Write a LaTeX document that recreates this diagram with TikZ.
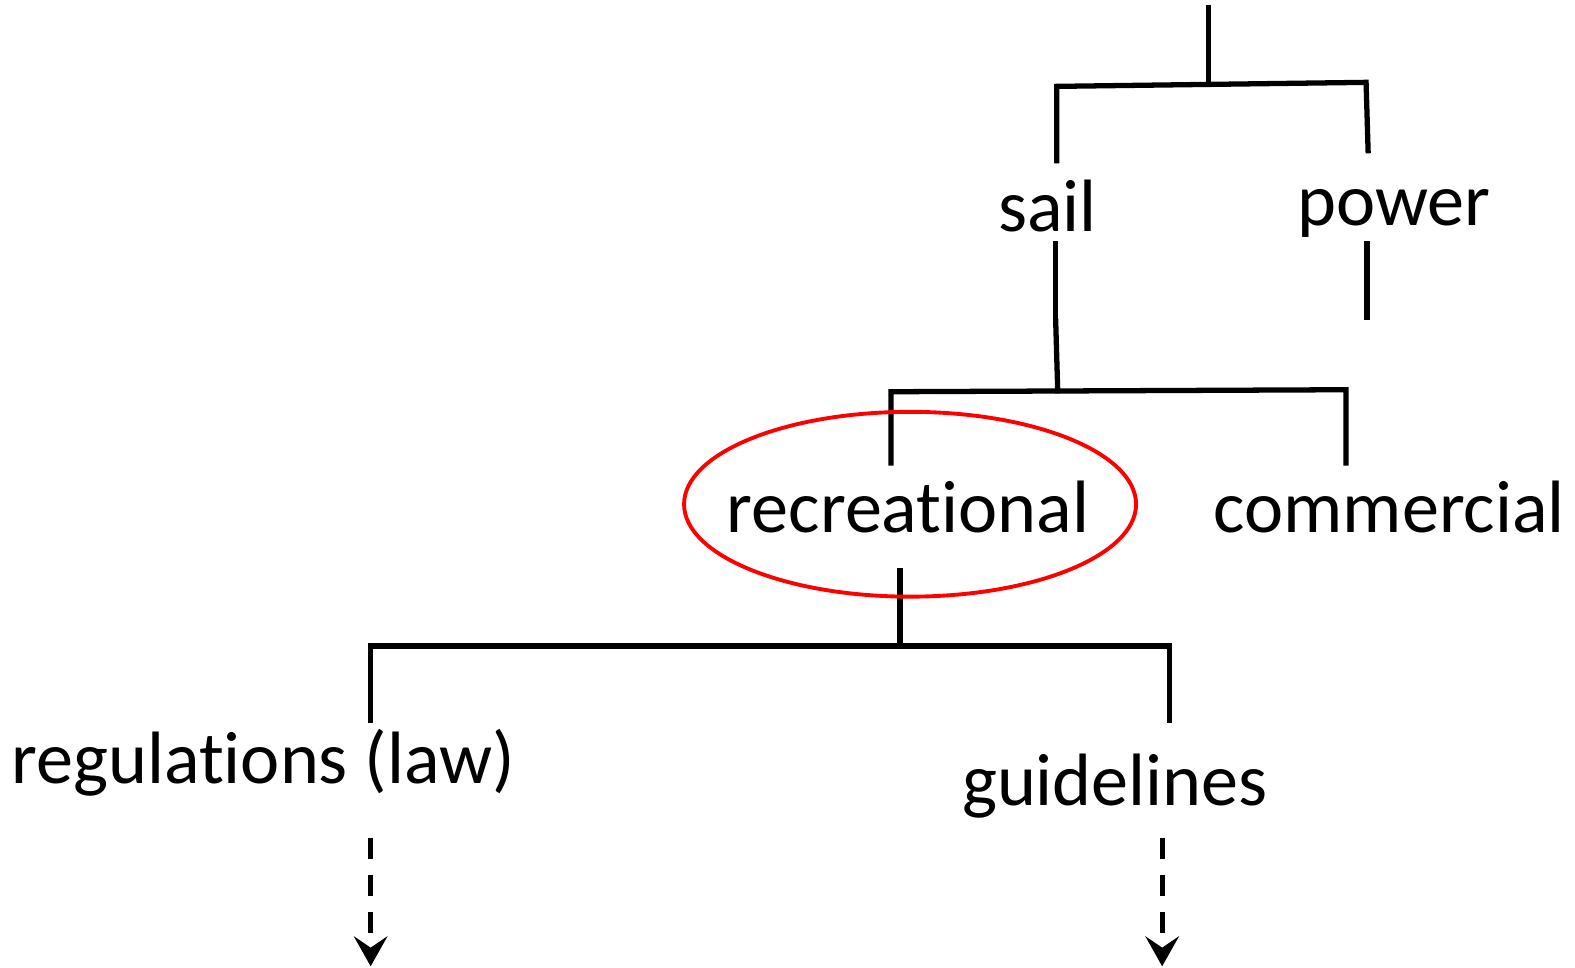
\documentclass[tikz,border=0pt]{standalone}
\usepackage{fontspec}
\setmainfont[Ligatures=NoCommon]{Carlito}
\usetikzlibrary{arrows.meta}
\begin{document}
\begin{tikzpicture}[x=0.010045cm,y=-0.010045cm,
  lbl/.style={inner sep=0pt,font=\fontsize{21.1}{24}\selectfont},
  br/.style={line width=1.5pt,line cap=rect},
  darr/.style={line width=1.5pt,dash pattern=on 6pt off 4.6pt,-{Stealth[length=8.5pt,width=9.5pt,inset=3.2pt]}}]
\useasboundingbox (0,0) rectangle (1568,963);
% labels
\node[lbl] (sail) at (1043,205) {sail};
\node[lbl] (power) at (1388,213) {power};
\node[lbl] (rec) at (904,505) {recreational};
\node[lbl] (com) at (1383,505) {commercial};
\node[lbl] (reg) at (262,759) {regulations (law)};
\node[lbl] (gui) at (1110,783) {guidelines};
% coordinates
\coordinate (top) at (1203,8);
\coordinate (topj) at (1203,84);
\coordinate (tl) at (1052,86);
\coordinate (tr) at (1360,82);
\coordinate (sailt) at (1052,160);
\coordinate (powert) at (1362,150);
\coordinate (sailb1) at (1051,243);
\coordinate (sailb2) at (1051,316);
\coordinate (sailb3) at (1051,320);
\coordinate (midj) at (1053,389);
\coordinate (powb1) at (1361,243);
\coordinate (powb2) at (1361,316);
\coordinate (ml) at (887,390);
\coordinate (mr) at (1340,388);
\coordinate (rect) at (887,461);
\coordinate (comt) at (1340,461);
\coordinate (recb) at (896,568);
\coordinate (lowj) at (896,643);
\coordinate (ll) at (369,643);
\coordinate (lr) at (1164,643);
\coordinate (regt) at (369,717);
\coordinate (guit) at (1164,717);
\coordinate (rega) at (369,834);
\coordinate (regz) at (369,962);
\coordinate (guia) at (1157,834);
\coordinate (guiz) at (1157,962);
% tree lines
\draw[br] (top) -- (topj);
\draw[br] (sailt) -- (tl) -- (tr) -- (powert);
\draw[br] (sailb1) -- (sailb2);
\draw[br] (sailb3) -- (midj);
\draw[br] (powb1) -- (powb2);
\draw[br] (rect) -- (ml) -- (mr) -- (comt);
\draw[br] (recb) -- (lowj);
\draw[br] (regt) -- (ll) -- (lr) -- (guit);
% ellipse
\draw[red, line width=1.1pt] (906,502) ellipse [x radius=225, y radius=92];
% dashed arrows
\draw[darr] (rega) -- (regz);
\draw[darr] (guia) -- (guiz);
\end{tikzpicture}
\end{document}
